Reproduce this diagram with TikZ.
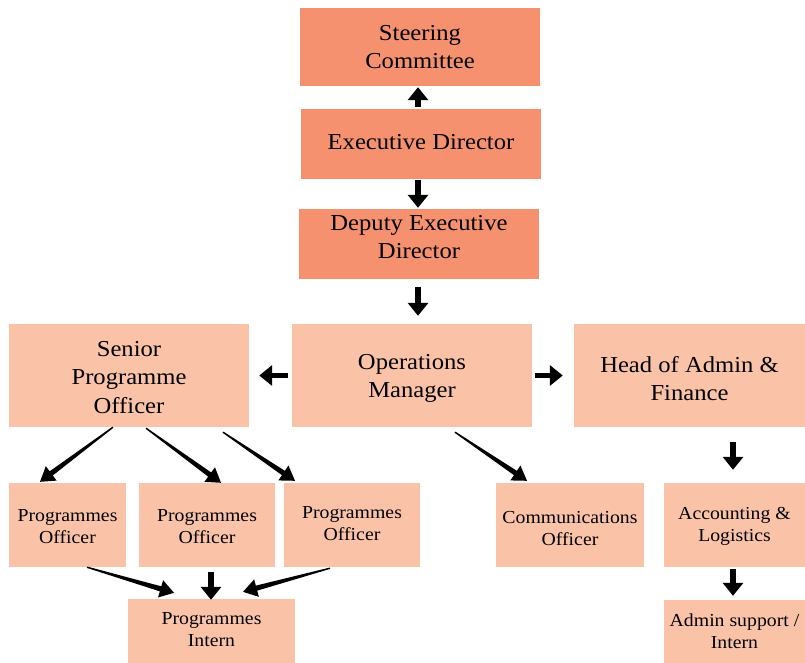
\documentclass[tikz,border=0pt]{standalone}
\usepackage{fontspec}
\setmainfont{Liberation Serif}[FakeStretch=1.08]
\usetikzlibrary{arrows.meta,calc}
\definecolor{darkbox}{HTML}{F5916F}
\definecolor{lightbox}{HTML}{FAC3A8}
\tikzset{
  box/.style={rectangle, inner sep=0pt},
  topbox/.style={box, fill=darkbox},
  litebox/.style={box, fill=lightbox},
  bigtext/.style={align=center, text=black, font=\fontsize{22.8}{28.5}\selectfont},
  smalltext/.style={align=center, text=black, font=\fontsize{18.3}{22}\selectfont},
  blockarrow/.style={line width=5.5pt, -{Triangle[width=20pt,length=13pt]}}
}
% tapered arrow: thin tail at #1, triangular head ending at #2
\newcommand\taperarrow[2]{%
  \coordinate (ta) at #1;
  \coordinate (tb) at #2;
  \coordinate (tc) at ($(tb)!14pt!(ta)$);
  \fill ($(ta)!0.7pt!90:(tb)$) -- ($(tc)!2.6pt!90:(tb)$) -- ($(tc)!9pt!90:(tb)$)
    -- (tb) -- ($(tc)!9pt!-90:(tb)$) -- ($(tc)!2.6pt!-90:(tb)$)
    -- ($(ta)!0.7pt!-90:(tb)$) -- cycle;}
\begin{document}
\begin{tikzpicture}[x=1pt,y=-1pt]
\useasboundingbox (0,0) rectangle (805,663);

% leadership
\node[topbox, minimum width=240pt, minimum height=78pt,
  label={[bigtext]center:Steering\\Committee}] (sc) at (420,47) {};
\node[topbox, minimum width=240pt, minimum height=70pt,
  label={[bigtext, yshift=1.5pt]center:Executive Director}] (ed) at (421,144) {};
\node[topbox, minimum width=240pt, minimum height=70pt,
  label={[bigtext, yshift=7pt]center:Deputy Executive\\Director}] (ded) at (419,244) {};

% management row
\node[litebox, minimum width=240pt, minimum height=103pt,
  label={[bigtext, yshift=-3pt]center:Operations\\Manager}] (om) at (412,375.5) {};
\node[litebox, minimum width=240pt, minimum height=103pt,
  label={[bigtext, yshift=-2pt]center:Senior\\Programme\\Officer}] (spo) at (129,375.5) {};
\node[litebox, minimum width=231pt, minimum height=103pt,
  label={[bigtext, yshift=-3pt]center:Head of Admin \&\\Finance}] (haf) at (689.5,375.5) {};

% staff row
\node[litebox, minimum width=117pt, minimum height=84pt,
  label={[smalltext, yshift=-2pt]center:Programmes\\Officer}] (po1) at (67.5,525) {};
\node[litebox, minimum width=136pt, minimum height=84pt,
  label={[smalltext, yshift=-1.5pt]center:Programmes\\Officer}] (po2) at (207,525) {};
\node[litebox, minimum width=136pt, minimum height=84pt,
  label={[smalltext, yshift=1.5pt]center:Programmes\\Officer}] (po3) at (352,525) {};
\node[litebox, minimum width=148pt, minimum height=84pt,
  label={[smalltext, yshift=-3.5pt]center:Communications\\Officer}] (co) at (570,525) {};
\node[litebox, minimum width=141pt, minimum height=84pt,
  label={[smalltext, yshift=-1pt]center:Accounting \&\\Logistics}] (al) at (734.5,525) {};

% bottom row
\node[litebox, minimum width=167pt, minimum height=64pt,
  label={[smalltext, yshift=1.5pt]center:Programmes\\Intern}] (pi) at (211.5,631) {};
\node[litebox, minimum width=141pt, minimum height=63pt,
  label={[smalltext, yshift=0pt]center:Admin support /\\Intern}] (as) at (734.5,631.5) {};

% straight block arrows
\draw[blockarrow] ($(ed.north)+(-3,-2)$) -- ($(sc.south)+(-2,1)$);
\draw[blockarrow] ($(ed.south)+(-3,1)$) -- ($(ded.north)+(-1,-1)$);
\draw[blockarrow] ($(ded.south)+(-1,8)$) -- ($(om.north)+(6,-8)$);
\draw[blockarrow] ($(om.west)+(-4,0)$) -- ($(spo.east)+(10,0)$);
\draw[blockarrow] ($(om.east)+(3,0)$) -- ($(haf.west)+(-11,0)$);
\draw[blockarrow] ($(haf.south)+(43.5,15)$) -- ($(al.north)+(-1.5,-13)$);
\draw[blockarrow] ($(al.south)+(-1.5,2)$) -- ($(as.north)+(-1.5,-4)$);
\draw[blockarrow] ($(po2.south)+(4,5)$) -- ($(pi.north)+(-0.5,1)$);

% slanted tapered arrows
\taperarrow{($(spo.south)+(-16,0)$)}{($(po1.north)+(-27.5,-1)$)}
\taperarrow{($(spo.south)+(17,1)$)}{($(po2.north)+(14,0)$)}
\taperarrow{($(spo.south)+(94,5)$)}{($(po3.north)+(-57,-2)$)}
\taperarrow{($(om.south)+(43,5)$)}{($(co.north)+(-43,-2)$)}
\taperarrow{($(po1.south)+(19.5,0)$)}{($(pi.north)+(-37.5,-6)$)}
\taperarrow{($(po3.south)+(-22,1)$)}{($(pi.north)+(31.5,-7)$)}
\end{tikzpicture}
\end{document}
